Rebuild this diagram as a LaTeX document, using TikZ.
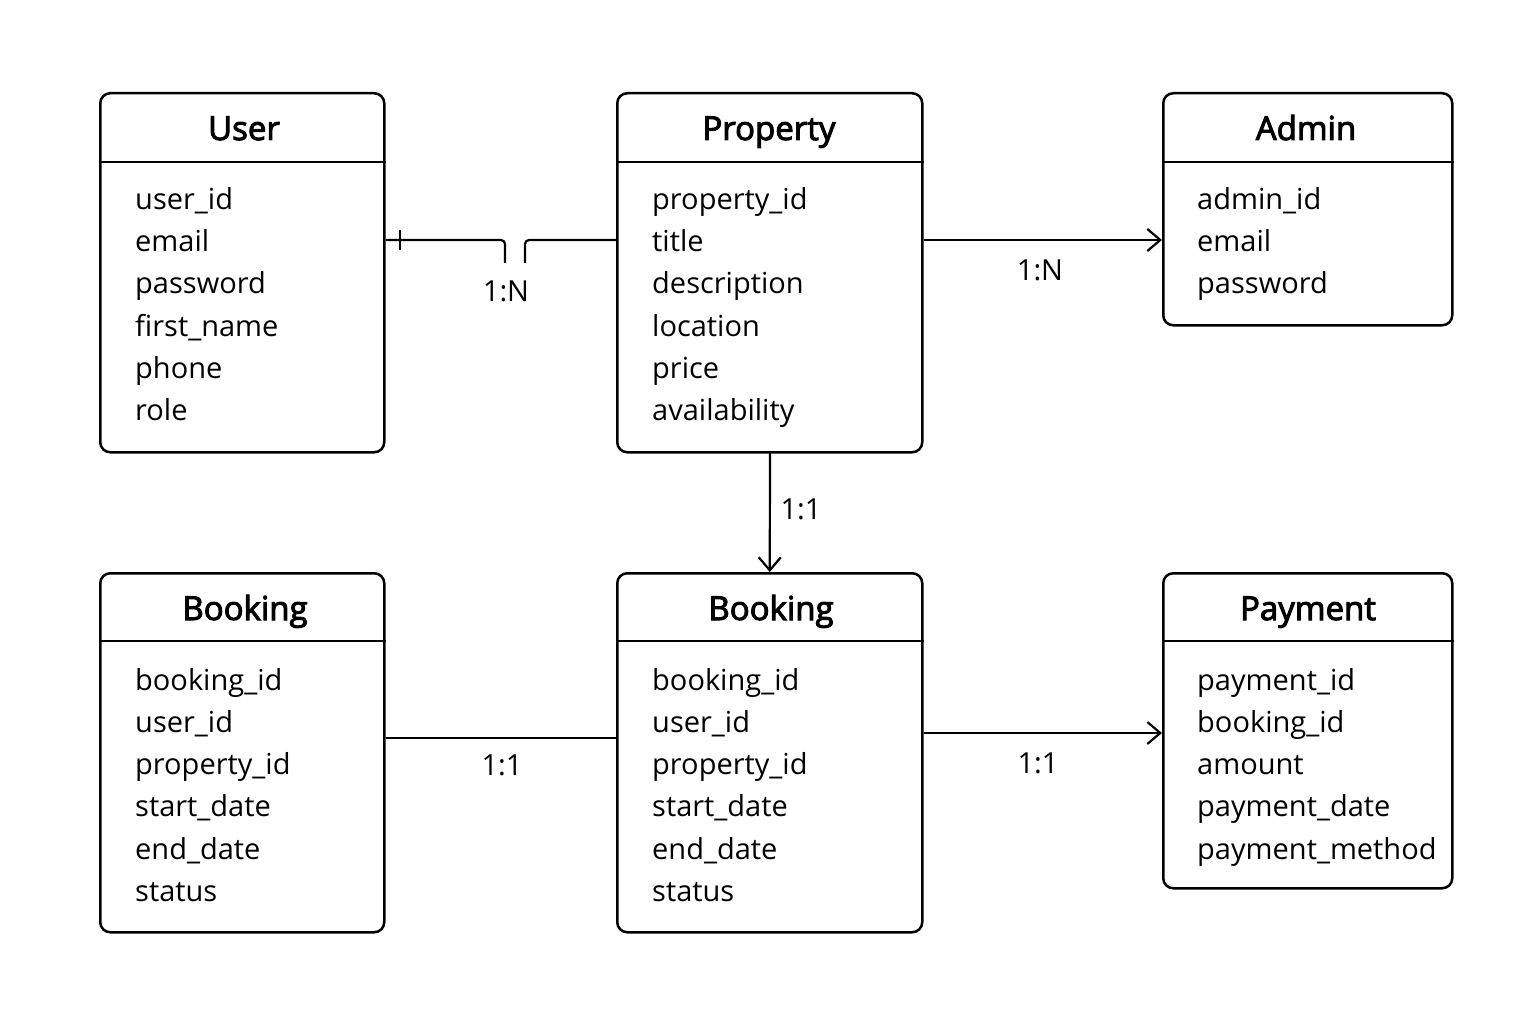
\documentclass[tikz,border=0pt]{standalone}
\usepackage{fontspec}
\setmainfont{Open Sans}
\newfontfamily\titlefont[FakeBold=3]{Open Sans}
\usetikzlibrary{arrows.meta}
\tikzset{
  box/.style={draw=black, line width=2.5pt, rounded corners=10pt, fill=none, inner sep=0pt},
  hdr/.style={line width=2.5pt},
  ttl/.style={anchor=base, font=\fontsize{33}{38}\titlefont, inner sep=0pt},
  attr/.style={anchor=base west, font=\fontsize{29}{34}\selectfont, inner sep=0pt},
  lbl/.style={font=\fontsize{29}{34}\selectfont, inner sep=0pt},
  conn/.style={line width=2.2pt},
  barb/.style={-{Straight Barb[length=13pt,width=22pt,line width=2.2pt]}},
}
\begin{document}
\begin{tikzpicture}[x=1pt,y=-1pt]
\useasboundingbox (0,0) rectangle (1536,1024);
\fill[white] (0,0) rectangle (1536,1024);

% boxes
\node[box, anchor=north west, minimum width=284pt, minimum height=359pt] (user) at (99,92) {};
\node[box, anchor=north west, minimum width=305pt, minimum height=359pt] (prop) at (616,92) {};
\node[box, anchor=north west, minimum width=289pt, minimum height=232pt] (admin) at (1162,92) {};
\node[box, anchor=north west, minimum width=284pt, minimum height=359pt] (bookl) at (99,572) {};
\node[box, anchor=north west, minimum width=305pt, minimum height=359pt] (bookm) at (616,572) {};
\node[box, anchor=north west, minimum width=289pt, minimum height=315pt] (pay) at (1162,572) {};

% header lines
\draw[hdr] (user.west |- 0,162) -- (user.east |- 0,162);
\draw[hdr] (prop.west |- 0,162) -- (prop.east |- 0,162);
\draw[hdr] (admin.west |- 0,162) -- (admin.east |- 0,162);
\draw[hdr] (bookl.west |- 0,641) -- (bookl.east |- 0,641);
\draw[hdr] (bookm.west |- 0,641) -- (bookm.east |- 0,641);
\draw[hdr] (pay.west |- 0,641) -- (pay.east |- 0,641);

% titles
\node[ttl] (tuser) at (244,140) {User};
\node[ttl] (tprop) at (769,140) {Property};
\node[ttl] (tadmin) at (1306,140) {Admin};
\node[ttl] (tbookl) at (245,620) {Booking};
\node[ttl] (tbookm) at (771,620) {Booking};
\node[ttl] (tpay) at (1308,620) {Payment};

% User attributes
\node[attr] (u1) at (135,210) {user\_id};
\node[attr] (u2) at (135,252) {email};
\node[attr] (u3) at (135,294) {password};
\node[attr] (u4) at (135,336) {first\_name};
\node[attr] (u5) at (135,378) {phone};
\node[attr] (u6) at (135,420) {role};

% Property attributes
\node[attr] (p1) at (652,210) {property\_id};
\node[attr] (p2) at (652,252) {title};
\node[attr] (p3) at (652,294) {description};
\node[attr] (p4) at (652,336) {location};
\node[attr] (p5) at (652,378) {price};
\node[attr] (p6) at (652,420) {availability};

% Admin attributes
\node[attr] (a1) at (1197,210) {admin\_id};
\node[attr] (a2) at (1197,252) {email};
\node[attr] (a3) at (1197,294) {password};

% Booking left
\node[attr] (bl1) at (135,690) {booking\_id};
\node[attr] (bl2) at (135,732) {user\_id};
\node[attr] (bl3) at (135,774) {property\_id};
\node[attr] (bl4) at (135,816) {start\_date};
\node[attr] (bl5) at (135,859) {end\_date};
\node[attr] (bl6) at (135,901) {status};

% Booking middle
\node[attr] (bm1) at (652,690) {booking\_id};
\node[attr] (bm2) at (652,732) {user\_id};
\node[attr] (bm3) at (652,774) {property\_id};
\node[attr] (bm4) at (652,816) {start\_date};
\node[attr] (bm5) at (652,859) {end\_date};
\node[attr] (bm6) at (652,901) {status};

% Payment
\node[attr] (y1) at (1197,690) {payment\_id};
\node[attr] (y2) at (1197,732) {booking\_id};
\node[attr] (y3) at (1197,774) {amount};
\node[attr] (y4) at (1197,816) {payment\_date};
\node[attr] (y5) at (1197,859) {payment\_method};

% connectors
\coordinate (ua) at (505,263);
\coordinate (ub) at (525,263);
\draw[conn, rounded corners=4pt] (user.east |- 0,240) -- (ua |- 0,240) -- (ua);
\draw[conn, rounded corners=4pt] (ub) -- (ub |- 0,240) -- (prop.west |- 0,240);
\draw[conn] (400,230) -- (400,250);
\node[lbl] (l1) at (506,291) {1:N};

\draw[conn, barb] (prop.east |- 0,240) -- (admin.west |- 0,240);
\node[lbl] (l2) at (1040,270) {1:N};

\draw[conn, barb] (770,451) -- (bookm.north);
\node[lbl] (l3) at (801,509) {1:1};

\draw[conn] (bookl.east |- 0,738) -- (bookm.west |- 0,738);
\node[lbl] (l4) at (502,765) {1:1};

\draw[conn, barb] (bookm.east |- 0,733) -- (pay.west |- 0,733);
\node[lbl] (l5) at (1038,763) {1:1};
\end{tikzpicture}
\end{document}
